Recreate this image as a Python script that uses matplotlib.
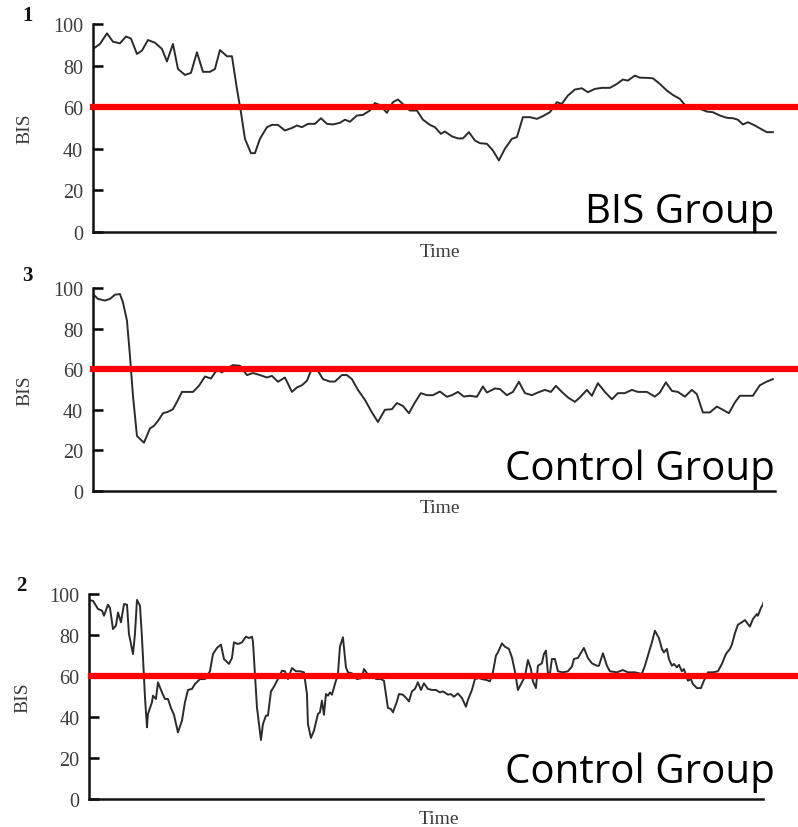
import matplotlib
matplotlib.use("Agg")
import matplotlib.pyplot as plt

# Panel 1 - BIS group (time in arbitrary sample units)
t_bis = [0, 7, 14, 20, 27, 33, 38, 44, 49, 55, 62, 69, 74, 80, 85, 92, 98, 104, 110, 117,
         122, 127, 134, 139, 144, 148, 152, 158, 162, 167, 174, 179, 185, 192, 199, 204, 209, 215, 222, 228,
         234, 240, 247, 252, 257, 264, 270, 277, 282, 287, 294, 300, 305,
         317, 324, 330, 337, 342, 348, 352, 359, 365, 370, 376, 382, 387, 394, 400, 406, 412, 419, 424, 430,
         437, 444, 450, 457, 464, 469, 475, 482, 489, 495, 502, 509, 517, 524, 530, 535, 542, 547, 554, 560,
         567, 574, 580, 587, 592, 599, 607, 614, 620, 627, 634, 640, 645, 650, 655, 662, 669, 674, 680]
bis_bis = [88, 90.4, 95.5, 91.5, 90.7, 94, 93, 85.6, 87.2, 92.3, 91, 88, 82, 90.4, 78.4, 75.5, 76.5, 86.4, 77, 77,
           78.4, 87.5, 84.5, 84.5, 68.8, 57.6, 44.8, 37.9, 37.9, 44.8, 50.4, 51.5, 51.5, 48.8, 50, 51.2, 50.4, 52, 52, 54.7,
           52, 51.7, 52.5, 54, 53, 56, 56.3, 58.4, 62, 61, 57.3, 62.4, 63.7,
           58.4, 58.4, 54, 51.5, 50.4, 47.2, 48.3, 46, 45, 45, 48, 44, 42.7, 42.4, 39.2, 34.4, 40, 44.8, 45.6, 55.2,
           55.2, 54.4, 55.7, 57.6, 62.4, 61.6, 65.6, 68.5, 69.1, 67.2, 68.8, 69.3, 69.3, 71.2, 73.3, 72.8, 75.2, 74.2, 74.1, 73.9,
           71.2, 68, 65.9, 64, 61.1, 60, 59.2, 57.9, 57.6, 56, 54.9, 54.7, 54, 51.7, 52.8, 51.2, 49.3, 48, 48]

# Panel 3 - control group
t_ctl3 = [0, 5, 12, 17, 22, 27, 30, 34, 37, 40, 44, 51, 57, 61, 65, 70, 75, 80, 84, 89,
          95, 100, 106, 112, 118, 124, 129, 134, 140, 147, 154, 160, 167, 174, 179, 185, 192, 199, 204, 209,
          214, 219, 224, 230, 237, 242, 249, 254, 259, 265, 272, 279, 285,
          292, 299, 304, 310, 316, 322, 328, 334, 340, 347, 354, 359, 365, 371, 377, 384, 390, 394, 402, 407,
          414, 420, 426, 432, 439, 445, 452, 458, 463, 469, 475, 482, 487, 494, 499, 505, 512, 519, 525, 532,
          539, 545, 554, 562, 567, 573, 579, 585, 592, 599, 604, 610, 617, 624, 630, 636, 642, 647, 654, 660,
          667, 674, 680]
bis_ctl3 = [97, 94.6, 93.8, 94.6, 96.7, 97, 92.9, 83.9, 66.6, 46.9, 27.1, 23.8, 30.8, 32.1, 34.5, 38.3, 39, 40.3, 43.9, 48.8,
            48.8, 48.8, 51.8, 56.4, 55.4, 59.7, 58.4, 60.4, 62, 61.7, 57.1, 58.1, 57.1, 55.9, 56.7, 53.8, 55.9, 48.8, 51, 52.1,
            54.3, 60.4, 60, 55.1, 53.9, 53.9, 57.1, 57.1, 55.1, 49.8, 44.9, 38.7, 34,
            40, 40.3, 43.3, 41.9, 38.3, 43.6, 48.2, 47.2, 47.2, 49, 46.4, 47.2, 48.8, 46.5, 46.9, 46.4, 51.5, 48.5, 50.5, 50.2,
            47.2, 48.8, 53.8, 48.2, 47.2, 48.5, 49.8, 48.8, 51.8, 48.8, 46.1, 43.9, 46.1, 49.8, 46.9, 53.1, 48.8, 45.2, 48.2, 48.2,
            49.8, 48.8, 48.8, 46.5, 48.5, 53.5, 49.3, 48.8, 46.5, 49.8, 47.7, 38.7, 38.7, 41.6, 40, 38.3, 43.6, 46.9, 46.9, 46.9,
            52.1, 53.9, 55.1]

# Panel 2 - control group
t_ctl2 = [0, 4, 9, 13, 15, 19, 21, 24, 27, 29, 32, 35, 38, 40, 44, 46, 48, 51, 53, 56,
          58, 59, 63, 64, 67, 69, 71, 73, 76, 79, 82, 85, 89, 93, 96, 99, 103, 106, 111, 116,
          121, 124, 128, 132, 135, 140, 143, 145, 149, 153, 157, 160, 163, 164,
          168, 170, 172, 174, 177, 179, 182, 185, 189, 193, 196, 199, 203, 207, 211, 215, 218, 219, 222, 225,
          229, 231, 233, 235, 237, 239, 241, 243, 246, 249, 251, 254, 257, 259, 263, 268, 273, 275, 279, 283,
          287, 292, 295, 299, 302, 304, 308, 310, 314, 318, 320, 323, 326, 329, 332, 335,
          339, 343, 347, 351, 354, 359, 362, 365, 369, 373, 377, 379, 383, 386, 390, 393, 398, 401, 404, 407,
          409, 413, 416, 420, 423, 426, 429, 433, 436, 439, 442, 444, 447, 449, 453, 455, 457, 459, 461, 463,
          466, 469, 474, 479, 483, 485, 489, 491, 495, 499, 503, 508,
          510, 514, 518, 521, 528, 534, 539, 546, 553, 556, 559, 563, 566, 570, 573, 575, 578, 580, 583, 585,
          588, 590, 593, 595, 599, 602, 604, 608, 612, 615, 619, 624, 629, 633, 637, 641, 643, 646, 649, 653,
          656, 661, 664, 668, 669, 672, 674, 675]
bis_ctl2 = [97, 96.7, 92.7, 91.9, 89.4, 94.8, 93.2, 82.9, 84.6, 91, 86.2, 95.1, 94.8, 80.5, 70.7, 80.5, 97.1, 94.3, 78.9, 49.6,
            35, 41.5, 47.2, 50.4, 48.8, 56.9, 54.5, 52, 48.8, 48.8, 44.4, 41.1, 32.5, 38.2, 47.2, 53.2, 53.7, 56.1, 58.5, 58.5,
            62.3, 70.7, 73.7, 75.3, 68.3, 65.9, 68.8, 76.4, 75.6, 76.4, 79.2, 78.5, 79.2, 76.9,
            44.7, 36.6, 28.8, 36.6, 40.7, 40.7, 52.5, 54.8, 58.5, 62.6, 62.3, 58.5, 63.9, 62.3, 62.3, 61.8, 51.2, 36.6, 29.8, 33.3,
            41.5, 42.3, 48, 41.1, 51.2, 50.4, 52, 50.9, 56.1, 61, 74.3, 78.9, 64.2, 61.8, 61.3, 58.5, 59, 63.4, 60.7, 61,
            58.5, 58.5, 57.7, 44.4, 43.9, 42.3, 47.6, 51.2, 50.9, 48.8, 47.6, 52.5, 53.7, 56.9, 53.2, 56.4,
            53.7, 53.2, 53.2, 52, 52.5, 50.9, 51.2, 49.9, 51.5, 49.3, 45, 48.3, 53.2, 58.5, 59, 58.5, 58, 57.4, 61.8, 69.9,
            71.5, 75.9, 74.3, 73.2, 69.1, 62.3, 53.2, 56.9, 59.7, 67.8, 63.4, 57.4, 54.1, 65, 66.2, 70.7, 72.4, 61.3, 61, 68.3,
            68.3, 62.3, 61.8, 62.3, 64.6, 68.3, 68.8, 70.4, 73.7, 68.8, 66.2, 65,
            65, 71.1, 65, 62.3, 61.8, 62.9, 61.8, 61.8, 61, 65, 69.9, 76.4, 82.1, 78.5, 73.2, 71.5, 73.2, 68.3, 65, 65.9,
            64.2, 65.5, 62.3, 63.4, 57.7, 58.5, 56.1, 54.1, 54.1, 57.7, 61.8, 61.8, 62.3, 65.9, 70.7, 73.2, 75.3, 80.8, 85, 86.2,
            87.3, 84.1, 87.8, 90.2, 89.4, 93.2, 94.8, 96.4]

threshold = 60
yticks = [0, 20, 40, 60, 80, 100]
panel_ids = ["1", "3", "2"]
group_names = ["BIS Group", "Control Group", "Control Group"]

SERIF = "Liberation Serif"
GRAY = "#3c3c3c"


def style_axes(ax, xmax, label_x, ylabel_x, time_y):
    ax.set_xlim(0, xmax)
    ax.set_ylim(0, 100)
    ax.set_yticks(yticks)
    ax.set_xticks([])
    for side in ("top", "right"):
        ax.spines[side].set_visible(False)
    for side in ("left", "bottom"):
        ax.spines[side].set_linewidth(1.8)
        ax.spines[side].set_color("#111111")
    ax.tick_params(axis="y", direction="in", length=7, width=1.8, pad=7,
                   labelsize=14.5, labelcolor=GRAY)
    for lab in ax.get_yticklabels():
        lab.set_fontfamily(SERIF)
    ax.set_ylabel("BIS", fontfamily=SERIF, fontsize=14, color=GRAY)
    ax.yaxis.set_label_coords(ylabel_x, 0.5)
    ax.set_xlabel("Time", fontfamily=SERIF, fontsize=14, color=GRAY)
    ax.xaxis.set_label_coords(label_x, time_y)


def main():
    fig = plt.figure(figsize=(7.98, 8.28), dpi=100)

    # posiciones medidas sobre la imagen de referencia
    boxes = [
        [0.1165, 0.7186, 0.8545, 0.2512],
        [0.1165, 0.4058, 0.8545, 0.2452],
        [0.1115, 0.0338, 0.8445, 0.2476],
    ]
    series = [(t_bis, bis_bis), (t_ctl3, bis_ctl3), (t_ctl2, bis_ctl2)]
    xmaxes = [682, 682, 674]
    text_x = [1.0, 1.0, 1.018]
    text_y = [0.05, 0.06, 0.083]
    time_y = [-0.055, -0.038, -0.052]
    time_x = [0.509, 0.509, 0.52]
    ylab_x = [-0.088, -0.088, -0.085]
    id_pos = [(0.034, 0.981), (0.034, 0.667), (0.027, 0.292)]

    for i, box in enumerate(boxes):
        ax = fig.add_axes(box)
        t, v = series[i]
        ax.plot(t, v, color="#2b2b2b", linewidth=1.4, zorder=2)
        # umbral BIS = 60, se sale del eje hasta el borde derecho
        ax.axhline(threshold, xmin=0.003 if i == 2 else 0, xmax=1.1, color="#ff0000",
                   linewidth=4.5, clip_on=False, zorder=3)
        style_axes(ax, xmaxes[i], time_x[i], ylab_x[i], time_y[i])
        ax.text(text_x[i], text_y[i], group_names[i], transform=ax.transAxes,
                ha="right", va="baseline", fontsize=29, fontfamily="Open Sans", color="black")
        fig.text(id_pos[i][0], id_pos[i][1], panel_ids[i], ha="center", va="center",
                 fontsize=15, fontweight="bold", fontfamily=SERIF, color="#111111")

    fig.savefig("out.png", dpi=100)
    plt.close(fig)


if __name__ == "__main__":
    main()
